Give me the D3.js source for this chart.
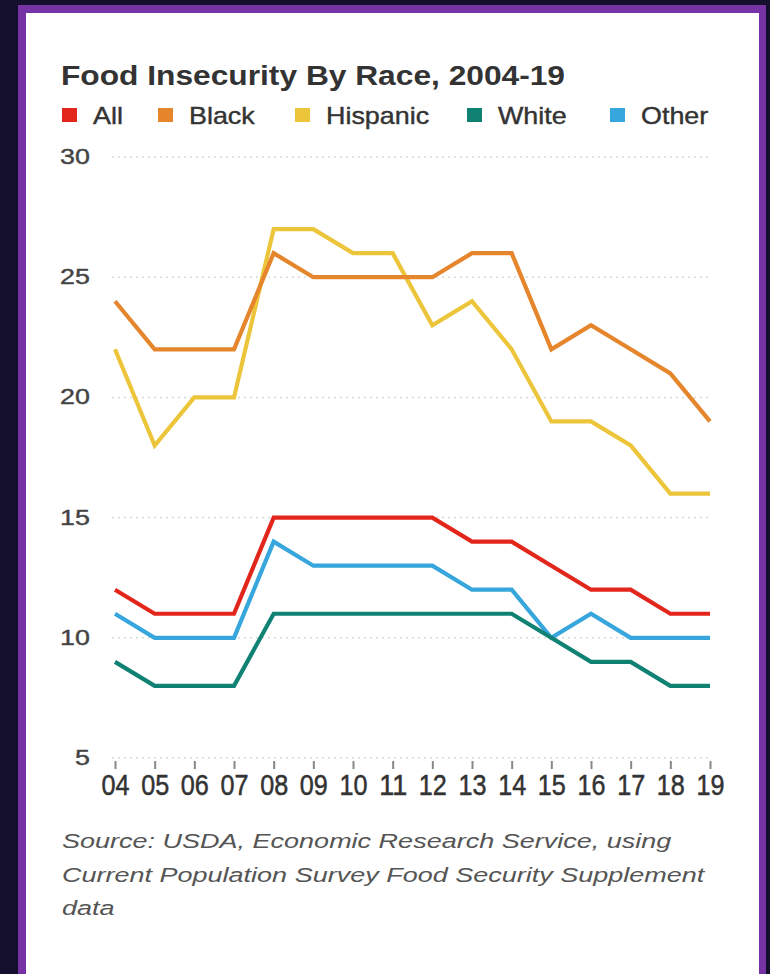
<!DOCTYPE html>
<html><head><meta charset="utf-8">
<script src="https://cdn.jsdelivr.net/npm/d3@7"></script>
<style>
html,body{margin:0;padding:0;background:#140f2c;}
svg{display:block;}
</style></head>
<body>
<svg id="c" width="770" height="974"></svg>
<script>
const years = ["04","05","06","07","08","09","10","11","12","13","14","15","16","17","18","19"];
const seriesNames = ["All","Black","Hispanic","White","Other"];
const seriesColors = ["#e2261c","#e5862c","#ecc53a","#0f8273","#36a6dc"];
const allValues      = [12,11,11,11,15,15,15,15,15,14,14,13,12,12,11,11];
const blackValues    = [24,22,22,22,26,25,25,25,25,26,26,22,23,22,21,19];
const hispanicValues = [22,18,20,20,27,27,26,26,23,24,22,19,19,18,16,16];
const whiteValues    = [9,8,8,8,11,11,11,11,11,11,11,10,9,9,8,8];
const otherValues    = [11,10,10,10,14,13,13,13,13,12,12,10,11,10,10,10];
const yTicks = [5,10,15,20,25,30];
const titleText = "Food Insecurity By Race, 2004-19";
const sourceLines = ["Source: USDA, Economic Research Service, using","Current Population Survey Food Security Supplement","data"];

const series = [
  {name:"Hispanic", values:hispanicValues},
  {name:"Black", values:blackValues},
  {name:"All", values:allValues},
  {name:"Other", values:otherValues},
  {name:"White", values:whiteValues}
];
const color = d3.scaleOrdinal().domain(seriesNames).range(seriesColors);

function stretch(sel, f){
  sel.each(function(){
    const L = this.getComputedTextLength();
    d3.select(this).attr("textLength", L*f).attr("lengthAdjust","spacingAndGlyphs");
  });
}

const svg = d3.select("#c");
// frame
svg.append("rect").attr("x",18).attr("y",5).attr("width",748).attr("height",1000).attr("fill","#7633a6");
svg.append("rect").attr("x",26).attr("y",13).attr("width",733).attr("height",1000).attr("fill","#ffffff");

const x = d3.scalePoint().domain(years).range([115,710]);
const y = d3.scaleLinear().domain([5,30]).range([758,157]);

const font = "'Liberation Sans', Arial, Helvetica, sans-serif";

// title
const title = svg.append("text").attr("x",61).attr("y",85).text(titleText)
  .attr("font-family",font).attr("font-weight","bold").attr("font-size",28).attr("fill","#333");
title.attr("textLength",504).attr("lengthAdjust","spacingAndGlyphs");

// legend
const legX = [62,158,295,467,610];
const lg = svg.append("g");
seriesNames.forEach((n,i)=>{
  lg.append("rect").attr("x",legX[i]).attr("y",108).attr("width",15).attr("height",14).attr("fill",color(n));
  const t = lg.append("text").attr("x",legX[i]+31).attr("y",124).text(n)
    .attr("font-family",font).attr("font-size",24).attr("fill","#333")
    .attr("stroke","#333").attr("stroke-width",0.4);
  stretch(t,1.12);
});

// grid
const grid = svg.append("g");
grid.selectAll("line").data(yTicks).join("line")
  .attr("x1",112).attr("x2",712).attr("y1",d=>y(d)).attr("y2",d=>y(d))
  .attr("stroke","#d8d8d8").attr("stroke-width",1.5).attr("stroke-dasharray","2,4");

// y labels
const yl = svg.append("g").selectAll("text").data(yTicks).join("text")
  .attr("x",90).attr("y",d=>y(d)+7).attr("text-anchor","end").text(d=>d)
  .attr("font-family",font).attr("font-size",22).attr("fill","#444")
  .attr("stroke","#444").attr("stroke-width",0.4);
stretch(yl,1.22);

// x axis
const xAxis = d3.axisBottom(x).tickSize(8).tickPadding(6);
const gx = svg.append("g").attr("transform","translate(0,761)").call(xAxis);
gx.select(".domain").remove();
gx.selectAll(".tick line").attr("stroke","#888").attr("stroke-width",2);
gx.selectAll(".tick text").attr("font-family",font).attr("font-size",29).attr("fill","#333")
  .attr("stroke","#333").attr("stroke-width",0.5)
  .attr("dy","0.68em").attr("textLength",28).attr("lengthAdjust","spacingAndGlyphs");

// lines
const line = d3.line().x((d,i)=>x(years[i])).y(d=>y(d)).curve(d3.curveLinear);
svg.append("g").selectAll("path").data(series).join("path")
  .attr("d",d=>line(d.values)).attr("fill","none")
  .attr("stroke",d=>color(d.name)).attr("stroke-width",4.2).attr("stroke-linejoin","miter");

// source
const src = svg.append("g").selectAll("text").data(sourceLines).join("text")
  .attr("x",62).attr("y",(d,i)=>848+i*33.5).text(d=>d)
  .attr("font-family",font).attr("font-style","italic").attr("font-size",20).attr("fill","#555");
stretch(src,1.35);
</script>
</body></html>
